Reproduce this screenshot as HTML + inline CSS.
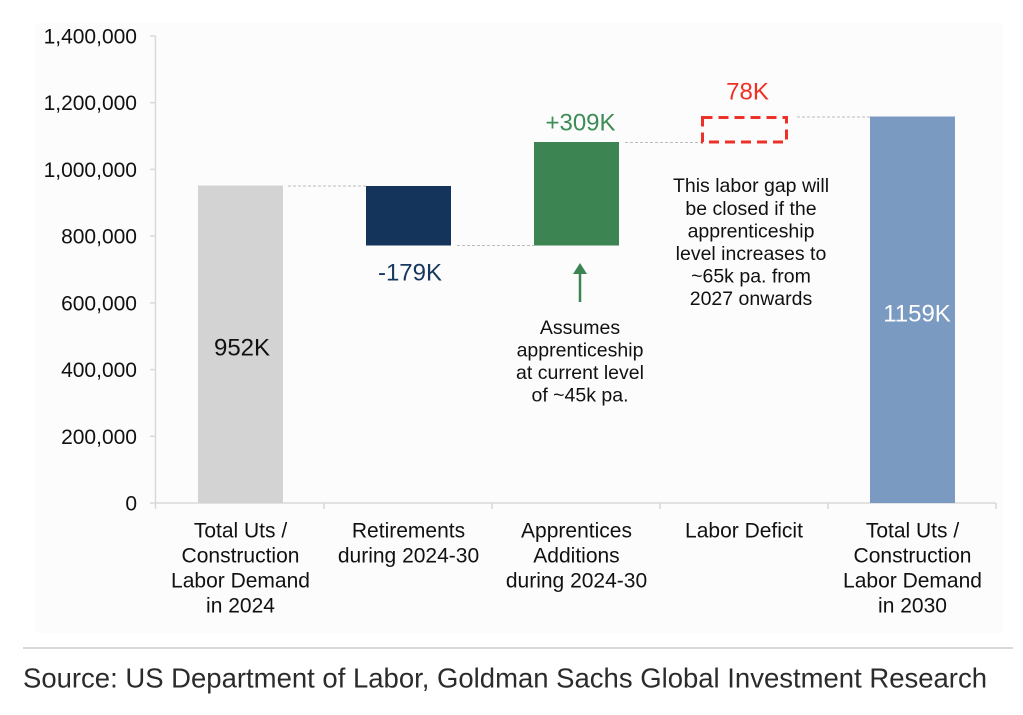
<!DOCTYPE html>
<html><head><meta charset="utf-8"><style>
html,body{margin:0;padding:0;background:#fff;}
svg{display:block;font-family:"Liberation Sans",Arial,sans-serif;}
</style></head><body>
<svg width="1023" height="715" viewBox="0 0 1023 715" xmlns="http://www.w3.org/2000/svg">
<rect x="0" y="0" width="1023" height="715" fill="#fff"/>
<rect x="35" y="23" width="968" height="610" fill="#fcfcfc"/>
<!-- y axis -->
<g stroke="#d9d9d9" stroke-width="1.5" fill="none">
<line x1="155.5" y1="36" x2="155.5" y2="503"/>
<line x1="150" y1="36" x2="155.5" y2="36"/>
<line x1="150" y1="102.7" x2="155.5" y2="102.7"/>
<line x1="150" y1="169.4" x2="155.5" y2="169.4"/>
<line x1="150" y1="236.1" x2="155.5" y2="236.1"/>
<line x1="150" y1="302.9" x2="155.5" y2="302.9"/>
<line x1="150" y1="369.6" x2="155.5" y2="369.6"/>
<line x1="150" y1="436.3" x2="155.5" y2="436.3"/>
<line x1="150" y1="503" x2="996" y2="503"/>
<line x1="155.5" y1="503" x2="155.5" y2="509"/>
<line x1="324" y1="503" x2="324" y2="509"/>
<line x1="492" y1="503" x2="492" y2="509"/>
<line x1="660" y1="503" x2="660" y2="509"/>
<line x1="828" y1="503" x2="828" y2="509"/>
<line x1="996" y1="503" x2="996" y2="509"/>
</g>
<g font-size="21" fill="#111" text-anchor="end">
<text x="137" y="43.5">1,400,000</text>
<text x="137" y="110.2">1,200,000</text>
<text x="137" y="176.9">1,000,000</text>
<text x="137" y="243.6">800,000</text>
<text x="137" y="310.4">600,000</text>
<text x="137" y="377.1">400,000</text>
<text x="137" y="443.8">200,000</text>
<text x="137" y="510.5">0</text>
</g>
<!-- connectors -->
<g stroke="#bdbdbd" stroke-width="1" stroke-dasharray="3,2" fill="none">
<line x1="288" y1="186" x2="366" y2="186"/>
<line x1="457" y1="245.5" x2="534" y2="245.5"/>
<line x1="625" y1="142.5" x2="702" y2="142.5"/>
<line x1="797" y1="117" x2="870" y2="117"/>
</g>
<!-- bars -->
<rect x="198" y="185.5" width="85" height="317.5" fill="#d3d3d3"/>
<rect x="366" y="186" width="85" height="59.5" fill="#14345c"/>
<rect x="534" y="142" width="85" height="103.5" fill="#3c8452"/>
<rect x="702.5" y="117.5" width="84" height="24.5" fill="none" stroke="#ec3228" stroke-width="3" stroke-dasharray="10,6"/>
<rect x="870" y="116.5" width="85" height="386.5" fill="#7b9ac2"/>
<!-- value labels -->
<g font-size="24" text-anchor="middle">
<text x="242" y="355.5" fill="#111">952K</text>
<text x="410" y="280.5" fill="#17375e">-179K</text>
<text x="580.5" y="130.5" fill="#3d8c57">+309K</text>
<text x="747.5" y="99.5" fill="#ee3124">78K</text>
<text x="917" y="321.5" fill="#fff">1159K</text>
</g>
<!-- arrow -->
<line x1="580" y1="302" x2="580" y2="272" stroke="#3c8452" stroke-width="2.5"/>
<polygon points="573,274 587,274 580,263" fill="#3c8452"/>
<!-- annotations -->
<g font-size="19.5" fill="#111" text-anchor="middle">
<text x="580" y="334">Assumes</text>
<text x="580" y="356.5">apprenticeship</text>
<text x="580" y="379">at current level</text>
<text x="580" y="401.5">of ~45k pa.</text>
<text x="751" y="192">This labor gap will</text>
<text x="751" y="215">be closed if the</text>
<text x="751" y="237.5">apprenticeship</text>
<text x="751" y="260">level increases to</text>
<text x="751" y="282.5">~65k pa. from</text>
<text x="751" y="305">2027 onwards</text>
</g>
<!-- category labels -->
<g font-size="21" fill="#111" text-anchor="middle">
<text x="240.5" y="537.5">Total Uts /</text>
<text x="240.5" y="562.5">Construction</text>
<text x="240.5" y="587.5">Labor Demand</text>
<text x="240.5" y="612.5">in 2024</text>
<text x="408.5" y="537.5">Retirements</text>
<text x="408.5" y="562.5">during 2024-30</text>
<text x="576.5" y="537.5">Apprentices</text>
<text x="576.5" y="562.5">Additions</text>
<text x="576.5" y="587.5">during 2024-30</text>
<text x="744" y="537.5">Labor Deficit</text>
<text x="912.5" y="537.5">Total Uts /</text>
<text x="912.5" y="562.5">Construction</text>
<text x="912.5" y="587.5">Labor Demand</text>
<text x="912.5" y="612.5">in 2030</text>
</g>
<!-- separator and source -->
<line x1="23" y1="648" x2="1013" y2="648" stroke="#d9d9d9" stroke-width="2"/>
<text x="23" y="687.5" font-size="28" fill="#2b2b2b" textLength="964" lengthAdjust="spacingAndGlyphs">Source: US Department of Labor, Goldman Sachs Global Investment Research</text>
</svg>
</body></html>
